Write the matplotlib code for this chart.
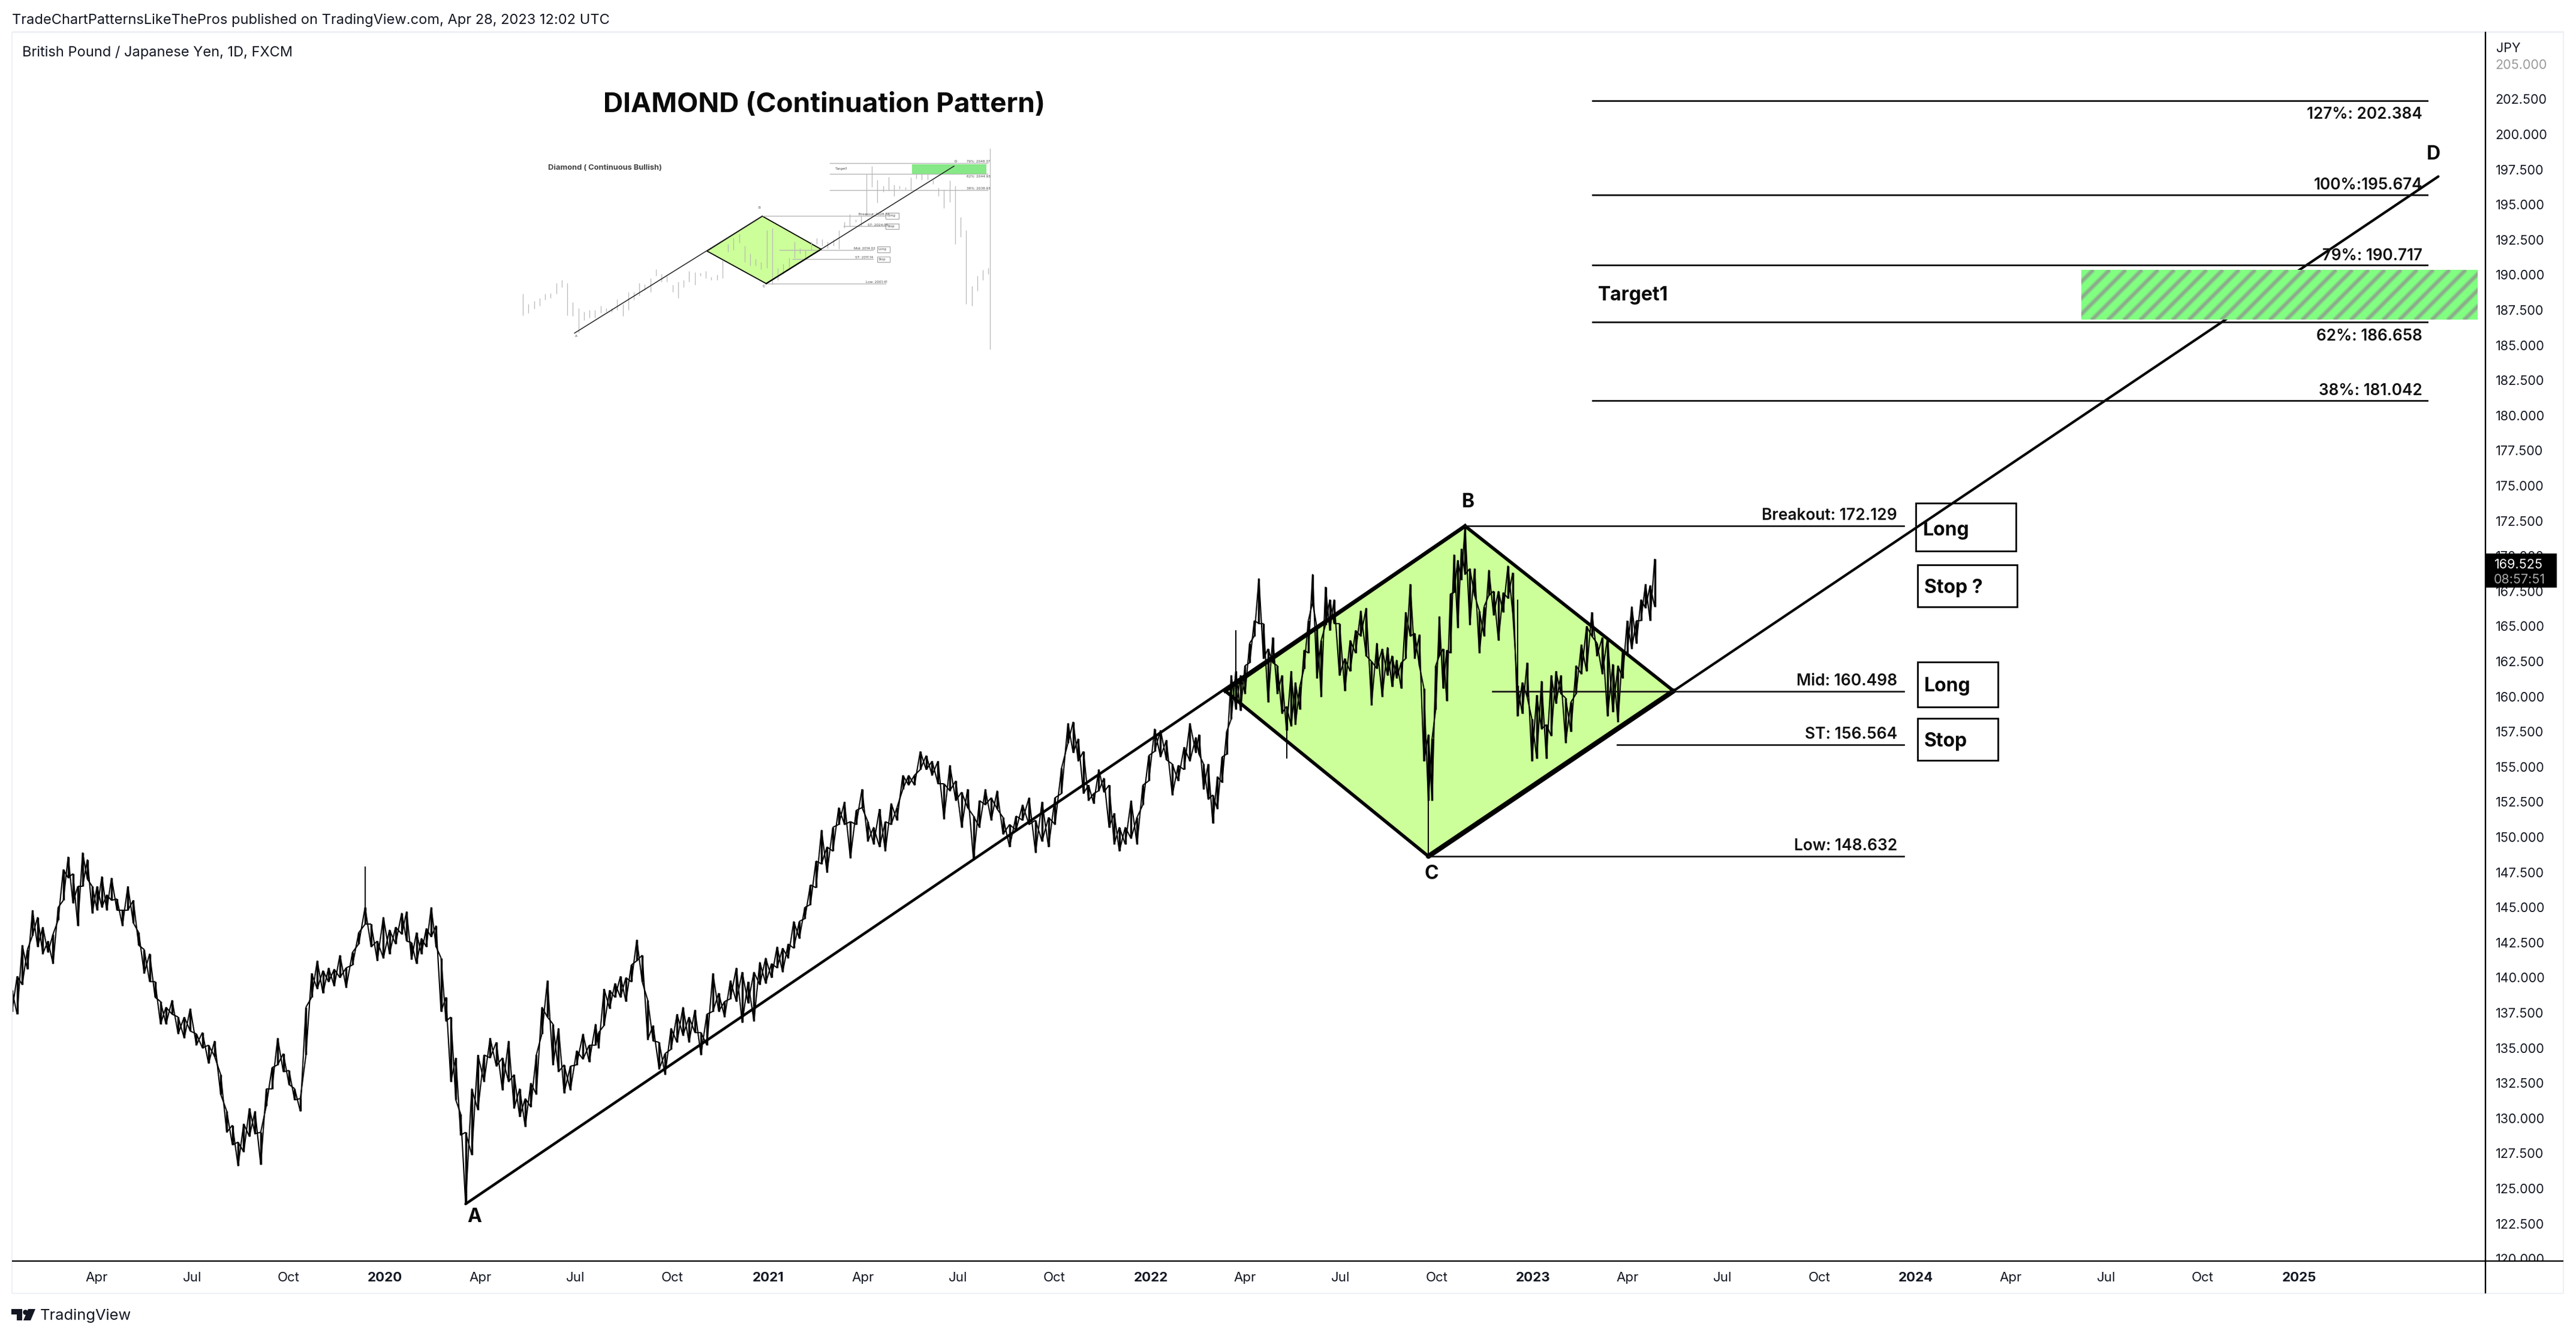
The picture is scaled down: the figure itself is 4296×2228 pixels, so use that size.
import numpy as np
import matplotlib
matplotlib.use("Agg")
import matplotlib.pyplot as plt
import matplotlib.dates as mdates
from matplotlib.patches import Rectangle, Polygon
from matplotlib.lines import Line2D
from matplotlib.collections import LineCollection
from matplotlib.transforms import IdentityTransform

W, H = 4296, 2228
plt.rcParams['font.family'] = ['Inter', 'DejaVu Sans']

# ---------- price series (high / low of each short period)
anchor_bar = [0,10,20,30,40,50,60,64,70,83,90,100,105,106,116,126,136,146,162,176,186,196,209,210,230,240,250,259,269,280,290,300,308]
anchor_date = ['2019-01-10','2019-02-28','2019-04-15','2019-06-06','2019-08-03','2019-09-26','2019-11-19','2019-12-13','2020-01-17','2020-03-18','2020-04-28','2020-06-20','2020-07-20','2020-07-23','2020-09-13','2020-11-09','2021-01-04','2021-02-26','2021-05-26','2021-08-13','2021-10-14','2021-12-02','2022-02-13','2022-02-16','2022-05-15','2022-06-25','2022-08-15','2022-09-23','2022-10-28','2022-12-17','2023-02-01','2023-03-23','2023-04-27']

high_2019 = [139.1,140.1,142.3,142.0,144.8,144.3,143.6,142.6,143.1,145.0,147.7,148.6,147.4,146.5,148.9,148.4,146.5,146.5,147.2,145.9,147.1,145.6,144.8,146.5,145.5,143.2,142.0,141.7,139.7,138.3,137.9,138.4,137.2,137.2,137.8,136.0,136.1,135.2,135.5,133.1,130.5,129.5,128.3,129.6,130.7,130.5,129.0,132.1,133.6,135.7,134.6,133.4,132.1,131.4,137.9,140.3,141.2,140.5,140.7,140.6,141.6,140.7,141.8,143.2,145.0,143.8,142.6,144.3,143.4,143.6,144.6,144.7,142.5,143.2,142.8,143.5,145.0,143.7,141.4,138.6,137.2,134.3,130.3,129.0]
low_2019 = [137.6,137.4,139.5,140.6,143.0,142.2,141.7,141.8,141.0,144.1,145.5,147.1,145.3,143.7,146.5,147.0,144.6,144.8,145.0,144.8,145.5,144.8,143.7,144.8,143.9,142.3,140.3,139.7,138.6,136.7,136.7,137.4,136.0,135.7,136.2,135.2,135.0,133.9,134.4,131.7,129.0,128.1,126.6,127.6,128.7,128.9,126.7,130.9,132.1,133.8,133.3,132.4,131.3,130.5,134.5,138.6,139.2,138.9,139.7,139.4,140.0,139.3,140.9,142.4,143.8,142.2,141.2,141.4,141.7,142.4,143.1,142.6,141.3,141.0,141.7,142.2,142.9,142.2,137.6,136.9,132.6,131.3,128.8,123.9]
high_2020a = [132.1,134.5,134.5,135.7,135.4,134.3,135.5,133.1,132.1,131.4,132.5,134.5,137.9,139.8,136.7,136.4,133.8,133.7,134.8,136.0,135.2,136.7]
low_2020a = [127.4,130.6,132.6,134.3,133.7,132.0,132.6,130.7,130.1,129.4,130.8,131.7,136.0,137.2,133.8,133.3,131.8,132.0,133.8,134.2,134.0,135.2]
high_2021 = [136.1,139.2,139.1,139.6,140.1,140.0,140.9,142.7,141.6,138.4,136.6,135.4,134.6,136.4,137.4,137.9,137.2,137.7,136.1,137.4,140.3,138.9,138.3,139.8,140.7,140.4,139.7,140.4,141.1,141.4,141.0,142.2,142.1,142.4,144.0,144.0,145.0,146.6,148.3,150.5,149.3,150.7,152.1,152.5,151.1,151.9,153.4,151.1,150.7,152.0,151.1,152.4,152.1,154.4,154.4,154.4,156.1,155.8,155.4,155.4,153.8,155.1,154.0,153.2,153.4,151.5,152.6,153.4,152.8,153.3,151.4,150.9,151.5,152.3,152.8,151.2,152.5,151.4,152.8,154.9,158.1,158.2,157.0,156.1,153.7,153.1,154.8,154.2,153.7,151.7,150.7,150.7,152.6,151.4,153.7,155.8,157.7,157.6,156.9,155.2,155.1,156.4,158.1,157.1]
low_2021 = [135.0,136.6,137.8,138.6,138.6,138.3,139.7,141.2,139.7,135.6,135.5,133.5,133.1,134.9,135.4,135.9,135.4,136.1,134.5,135.2,137.6,137.6,137.2,138.5,138.3,136.8,138.2,136.9,139.5,139.6,140.0,140.7,140.4,141.4,142.1,142.8,144.2,145.2,146.4,148.1,147.5,149.0,150.9,150.9,148.5,150.9,152.1,149.7,149.5,149.3,149.0,150.9,151.2,153.4,153.7,153.7,154.8,154.8,154.4,153.8,151.3,153.3,152.6,150.7,152.1,148.4,150.7,152.3,151.2,152.0,150.2,149.3,150.5,151.2,150.9,148.9,149.7,149.3,150.9,153.1,156.7,156.0,155.4,153.1,152.6,152.4,153.3,153.2,150.7,149.5,149.0,149.5,149.9,149.5,152.3,154.0,156.1,155.7,155.5,153.0,154.0,154.8,155.4,156.0]
high_2022 = [157.3,155.2,155.2,153.0,154.3,155.7,157.5,161.5,161.8,161.5,162.2,163.8,165.4,168.4,165.2,163.4,164.2,162.2,161.5,159.3,161.8,161.0,160.7,163.3,165.4,168.7,164.9,164.0,167.8,166.9,166.9,165.2,162.7,164.0,164.7,166.1,166.3,162.5,163.8,163.4,163.5,162.9,162.6,162.4,166.0,168.0,164.5,164.4,160.6,157.3,157.0,162.2,165.7,163.4,163.3,167.3,170.1,169.7,170.5,172.1,169.1,169.1,166.1,166.4,169.0,167.5,167.5,167.4,169.3,168.8,160.8,161.0,162.4,158.4,160.1,161.1,158.0,161.5,161.8,161.5,159.9,159.6,162.2,163.7,165.0,166.0,163.8,164.2,164.2,162.3,162.2,163.3,165.4,166.4,165.4,166.9,168.0,167.9,169.8]
low_2022 = [155.9,153.4,152.7,151.0,152.0,153.9,155.9,158.4,159.1,159.0,160.2,162.4,164.3,165.2,162.7,159.6,162.4,160.2,158.8,157.6,157.9,158.0,159.1,162.0,163.1,166.7,161.3,160.0,165.1,164.7,165.2,161.5,160.4,161.8,163.1,164.3,162.9,159.4,162.0,160.0,161.5,160.7,161.3,160.6,162.7,164.3,162.7,162.2,155.4,152.6,152.6,159.1,162.9,160.6,159.7,163.1,167.4,164.9,168.3,168.7,165.1,167.2,163.1,164.3,167.2,165.8,164.0,166.0,167.0,166.0,158.6,158.8,160.0,155.4,155.6,157.7,155.6,157.2,159.5,160.2,156.7,157.5,160.2,161.6,161.8,164.3,162.9,161.6,158.6,158.9,158.2,161.3,163.1,163.4,163.8,165.4,166.3,165.4,166.4]
# single long wicks, drawn thin
wick_bar = [64, 218, 229, 259, 280]
wick_low = [143.8, 159.1, 155.6, 148.6, 158.6]
wick_high = [147.9, 164.7, 159.3, 157.3, 166.9]

# ---------- analysis levels
pattern_dates = ['2022-03-13', '2022-10-28', '2023-05-15', '2022-09-23']   # left, B, right, C
pattern_prices = [160.4, 172.129, 160.4, 148.632]
point_a = ('2020-03-18', 123.9)
point_d = ('2025-05-14', 197.0)
level_start = ['2022-10-28', '2022-11-23', '2023-03-22', '2022-09-23']
level_values = [172.15, 160.38, 156.564, 148.632]
level_labels = ['Breakout: 172.129', 'Mid: 160.498', 'ST: 156.564', 'Low: 148.632']
target_values = [202.384, 195.674, 190.717, 186.658, 181.042]
target_labels = ['127%: 202.384', '100%:195.674', '79%: 190.717', '62%: 186.658', '38%: 181.042']
target_dy = [23, -16, -15, 24, -16]
target_zone = (186.8, 190.36)

price_ticks = [120 + 2.5 * i for i in range(35)]
time_ticks = ['2019-04-01','2019-07-01','2019-10-01','2020-01-01','2020-04-01','2020-07-01','2020-10-01','2021-01-01','2021-04-01','2021-07-01','2021-10-01','2022-01-01','2022-04-01','2022-07-01','2022-10-01','2023-01-01','2023-04-01','2023-07-01','2023-10-01','2024-01-01','2024-04-01','2024-07-01','2024-10-01','2025-01-01']
time_labels = ['Apr','Jul','Oct','2020','Apr','Jul','Oct','2021','Apr','Jul','Oct','2022','Apr','Jul','Oct','2023','Apr','Jul','Oct','2024','Apr','Jul','Oct','2025']

# ---------- small reference picture (inset): high / low per bar
inset_high = [1997.3,1993.4,1994.6,1995.8,1997.3,1997.7,2001.6,2002.8,2001.6,1994.2,1991.9,1990.3,1991.1,1991.1,1992.7,1991.9,1991.9,1995.4,1993.4,1998.1,1998.1,2001.6,2001.2,2003.6,2007.1,2005.2,2004.4,2000.9,2002.0,2002.8,2006.3,2005.9,2005.5,2006.3,2004.0,2004.8,2010.6,2016.9,2019.2,2020.8,2016.1,2013.0,2011.0,2009.8,2022.3,2023.1,2007.5,2009.1,2011.4,2017.7,2015.3,2014.5,2017.7,2019.2,2018.8,2017.7,2018.8,2022.3,2025.5,2028.6,2026.3,2027.8,2044.2,2047.3,2041.9,2039.5,2043.0,2039.9,2039.5,2039.1,2042.7,2046.6,2045.8,2044.2,2041.9,2038.8,2038.0,2041.5,2039.5,2027.4,2022.3,2000.5,2004.4,2006.7,2007.5]
inset_low = [1989.1,1989.9,1991.5,1992.7,1995.0,1995.8,1997.3,2000.1,1989.1,1988.8,1982.1,1987.2,1988.0,1988.0,1989.9,1990.3,1990.3,1991.1,1988.8,1991.1,1995.0,1996.6,1998.9,1998.1,2004.4,2002.0,2002.0,1998.1,1995.8,2000.1,2002.0,2000.9,2004.4,2003.6,2002.8,2002.8,2003.6,2013.8,2014.5,2017.3,2009.8,2008.3,2008.3,2007.1,2007.5,2001.2,2002.8,2005.2,2006.7,2011.4,2013.0,2011.4,2014.5,2016.9,2016.1,2015.3,2016.1,2014.9,2023.1,2023.9,2025.5,2023.9,2027.8,2039.1,2032.9,2037.2,2037.6,2035.6,2038.4,2038.0,2037.6,2042.3,2041.9,2041.9,2040.3,2035.6,2030.9,2033.3,2016.9,2019.6,1993.4,1992.7,1998.5,2002.8,2005.2]
inset_diamond_x = [33.2, 43.2, 53.8, 43.9]
inset_diamond_y = [2014.1, 2027.7, 2014.8, 2001.4]
inset_a = (9.3, 1982.1)
inset_d = (77.8, 2047.2)
inset_levels = [(55.4, 83.9, 2048.4), (55.4, 83.9, 2044.1), (55.4, 83.9, 2037.8), (43.2, 65.5, 2027.7),
                (57.9, 65.5, 2023.8), (46.3, 63.2, 2014.5), (48.7, 63.2, 2010.9), (43.9, 65.5, 2001.4)]
inset_zone = (70.2, 83.7, 2044.2, 2048.0)

# ---------- helpers: pixel positions for page furniture
def fx(x): return x / W
def fy(y): return 1 - y / H
def dn(s): return mdates.date2num(np.datetime64(s))

fig = plt.figure(figsize=(W / 100, H / 100), dpi=100, facecolor='white')
AL, AR, AT, AB = 20, 4145, 53, 2103
ax = fig.add_axes([fx(AL), fy(AB), fx(AR - AL), fy(AT) - fy(AB)])
ax.set_xlim(dn('2019-01-10'), dn('2025-06-28'))
ax.set_ylim(150 - (AB - 1396) / 23.44, 150 + (1396 - AT) / 23.44)
for s in ['top', 'left', 'bottom', 'right']:
    ax.spines[s].set_visible(False)

# diamond
dx = [dn(d) for d in pattern_dates]
ax.add_patch(Polygon(list(zip(dx, pattern_prices)), closed=True, facecolor='#ccff99', edgecolor='none', zorder=1))

# price bars, with the strokes that join one bar to the next
highs = np.array(high_2019 + high_2020a + high_2021 + high_2022)
lows = np.array(low_2019 + low_2020a + low_2021 + low_2022)
bar_x = np.interp(np.arange(len(highs)), anchor_bar, [dn(d) for d in anchor_date])
ax.vlines(bar_x, lows, highs, color='#000000', linewidth=2.5, zorder=2)
ax.vlines(bar_x[wick_bar], wick_low, wick_high, color='#000000', linewidth=1.5, zorder=2)
join_up = np.column_stack([np.column_stack([bar_x[:-1], lows[:-1]]), np.column_stack([bar_x[1:], highs[1:]])]).reshape(-1, 2, 2)
join_down = np.column_stack([np.column_stack([bar_x[:-1], highs[:-1]]), np.column_stack([bar_x[1:], lows[1:]])]).reshape(-1, 2, 2)
ax.add_collection(LineCollection(list(join_up) + list(join_down), colors='#000000', linewidths=1.5, zorder=2), autolim=False)

# trend lines and diamond outline
ax.plot([dn(point_a[0]), dx[1]], [point_a[1], pattern_prices[1]], color='k', lw=3.2, zorder=3, solid_capstyle='round')
ax.plot([dx[2], dn(point_d[0])], [pattern_prices[2], point_d[1]], color='k', lw=3.0, zorder=3, solid_capstyle='round')
ax.plot([dx[0], dx[1]], [pattern_prices[0], pattern_prices[1]], color='k', lw=4.6, zorder=3)
ax.plot([dx[1], dx[2]], [pattern_prices[1], pattern_prices[2]], color='k', lw=4.0, zorder=3)
ax.plot([dx[0], dx[3]], [pattern_prices[0], pattern_prices[3]], color='k', lw=4.0, zorder=3)
ax.plot([dx[3], dx[2]], [pattern_prices[3], pattern_prices[2]], color='k', lw=6.0, zorder=3, solid_capstyle='round')

def px_date(x):
    return dn('2020-01-01') + (x - 642) / 638 * 365.25

# levels around the pattern
for start, v, lab in zip(level_start, level_values, level_labels):
    ax.plot([dn(start), px_date(3174)], [v, v], color='#111111', lw=1.9, zorder=3)
    fig.text(fx(3164), fy(1396 + (150 - v) * 23.44 - 17), lab, ha='right', va='center', fontsize=19, fontweight='semibold', color='#111111')

# target levels
for v, lab, d in zip(target_values, target_labels, target_dy):
    ax.plot([px_date(2656), px_date(4047)], [v, v], color='#111111', lw=2.0, zorder=3)
    fig.text(fx(4040), fy(1396 + (150 - v) * 23.44 + d), lab, ha='right', va='center', fontsize=18.8, fontweight='semibold', color='#111111')

# target zone with blurred diagonal stripes
zx0, zx1 = px_date(3470), px_date(4131)
zone = Rectangle((zx0, target_zone[0]), zx1 - zx0, target_zone[1] - target_zone[0], facecolor='#80ff80', edgecolor='none', zorder=4)
ax.add_patch(zone)
ybot, ytop = H - 534, H - 450
segs = [[(x, ybot), (x + (ytop - ybot), ytop)] for x in np.arange(3470 - 90, 4131 + 10, 27)]
for lw, col in [(6.0, '#86d586'), (3.0, '#8cab8c')]:
    lc = LineCollection(segs, colors=col, linewidths=lw, transform=IdentityTransform(), zorder=4.1)
    ax.add_collection(lc, autolim=False)
    lc.set_clip_path(zone)

# axes ticks
ax.yaxis.tick_right()
ax.set_yticks(price_ticks)
ax.set_yticklabels([f'{v:.3f}' for v in price_ticks], fontsize=15.5, color='#131722')
ax.tick_params(axis='y', length=0, pad=12)
ax.yaxis.get_majorticklabels()[-1].set_color('#9a9a9a')
ax.set_xticks([dn(d) for d in time_ticks])
ax.set_xticklabels(time_labels, fontsize=16, color='#131722')
ax.tick_params(axis='x', length=0, pad=13)
for lab in ax.get_xticklabels():
    if lab.get_text().startswith('20'):
        lab.set_fontweight('bold')

# cover under the axis line: the lowest price label is cut there
fig.add_artist(Rectangle((fx(4147), fy(2157)), fx(127), fy(2104) - fy(2157), transform=fig.transFigure,
                         facecolor='white', edgecolor='none', zorder=4))

# page lines
def fline(x0, y0, x1, y1, c, lw, z=5):
    fig.add_artist(Line2D([fx(x0), fx(x1)], [fy(y0), fy(y1)], color=c, lw=lw, zorder=z, solid_capstyle='butt'))
fline(20, 53, 4275, 53, '#eef0f5', 2.4)
fline(20, 53, 20, 2157, '#eef0f5', 1.6)
fline(4275, 53, 4275, 2157, '#eef0f5', 1.6)
fline(20, 2157, 4275, 2157, '#eef0f5', 1.6)
fline(20, 2103, 4275, 2103, '#000000', 1.7, 6)
fline(4145, 53, 4145, 2157, '#000000', 1.7, 6)

# price tag
fig.add_artist(Rectangle((fx(4146), fy(980)), fx(118), fy(923) - fy(980), transform=fig.transFigure,
                         facecolor='black', edgecolor='none', zorder=8))
fig.text(fx(4160), fy(942), '169.525', color='white', fontsize=15.5, va='center', zorder=9)
fig.text(fx(4159), fy(967), '08:57:51', color='#a8a8a8', fontsize=15.5, va='center', zorder=9)
fig.text(fx(4163), fy(81), 'JPY', color='#131722', fontsize=15.5, va='center')

# headers
fig.text(fx(20), fy(34), 'TradeChartPatternsLikeThePros published on TradingView.com, Apr 28, 2023 12:02 UTC',
         fontsize=17, va='center', color='#131722')
fig.text(fx(37), fy(88), 'British Pound / Japanese Yen, 1D, FXCM', fontsize=17, va='center', color='#131722')
fig.text(fx(1375), fy(175), 'DIAMOND (Continuation Pattern)', fontsize=33, fontweight='bold', ha='center', va='center', color='#0a0a0a', zorder=7)

# point labels
for t, x, y in [('A', 791, 2029), ('B', 2448, 838), ('C', 2387, 1458), ('D', 4058, 258)]:
    fig.text(fx(x), fy(y), t, fontsize=23, fontweight='bold', ha='center', va='center', color='#0a0a0a', zorder=7)
fig.text(fx(2665), fy(492), 'Target1', fontsize=23, fontweight='bold', va='center', color='#0a0a0a', zorder=7)

# boxes
boxes = [(3195, 839, 3362, 919, 'Long', 3207, 884), (3198, 942, 3364, 1012, 'Stop ?', 3209, 981),
         (3198, 1104, 3332, 1179, 'Long', 3209, 1144), (3198, 1198, 3332, 1268, 'Stop', 3209, 1236)]
for x0, y0, x1, y1, t, tx, ty in boxes:
    fig.add_artist(Rectangle((fx(x0), fy(y1)), fx(x1 - x0), fy(y0) - fy(y1), transform=fig.transFigure,
                             facecolor='none', edgecolor='black', lw=2.0, zorder=7))
    fig.text(fx(tx), fy(ty), t, fontsize=23, fontweight='bold', va='center', color='#0a0a0a', zorder=7)

# footer logo
fig.add_artist(Polygon([(fx(19), fy(2183)), (fx(37), fy(2183)), (fx(37), fy(2202)), (fx(28), fy(2202)), (fx(28), fy(2192)), (fx(19), fy(2192))],
                       transform=fig.transFigure, facecolor='#131722', edgecolor='none'))
fig.add_artist(Polygon([(fx(47), fy(2183)), (fx(59), fy(2183)), (fx(51), fy(2202)), (fx(39), fy(2202))],
                       transform=fig.transFigure, facecolor='#131722', edgecolor='none'))
fig.add_artist(Line2D([fx(41.5)], [fy(2187.5)], marker='o', ms=6.2, color='#131722', mec='none', lw=0))
fig.text(fx(67), fy(2194), 'TradingView', fontsize=18.3, va='center', color='#131722')

# inset
ia = fig.add_axes([fx(868), fy(582), fx(1651 - 868), fy(248) - fy(582)], facecolor='white', zorder=3)
ia.set_xlim(-0.46, 84.3)
ia.set_ylim(1975.9, 2054.0)
ia.axis('off')
ia.add_patch(Polygon(list(zip(inset_diamond_x, inset_diamond_y)), closed=True, facecolor='#ccff99', edgecolor='k', lw=1.3, zorder=1))
ia.vlines(np.arange(len(inset_high)), inset_low, inset_high, color='#b8b8b8', lw=0.9, zorder=2)
ia.plot([inset_a[0], inset_diamond_x[1]], [inset_a[1], inset_diamond_y[1]], color='#222222', lw=1.1, zorder=3)
ia.plot([inset_diamond_x[2], inset_d[0]], [inset_diamond_y[2], inset_d[1]], color='#222222', lw=1.1, zorder=3)
ia.plot([inset_diamond_x[3], inset_diamond_x[2]], [inset_diamond_y[3], inset_diamond_y[2]], color='k', lw=1.6, zorder=3)
for a, b, v in inset_levels:
    ia.plot([a, b], [v, v], color='#b5b5b5', lw=1.0, zorder=2)
ia.add_patch(Rectangle((inset_zone[0], inset_zone[2]), inset_zone[1] - inset_zone[0], inset_zone[3] - inset_zone[2],
                       facecolor='#86e886', edgecolor='none', zorder=2))
ia.plot([84.3, 84.3], [1975.9, 2054.0], color='#bdbdbd', lw=1.0, clip_on=False)
def itext(X, Y, t, fs=4.2, w='normal'):
    fig.text(fx(840 + X / 1.867), fy(240 + Y / 3), t, fontsize=fs, ha='center', va='center', color='#444444', fontweight=w, zorder=8)
itext(315, 120, 'Diamond ( Continuous Bullish)', 9.3, 'bold')
for x, y, t in [(225, 962, 'A'), (796, 318, 'B'), (810, 712, 'C'), (1407, 88, 'D'), (1051, 125, 'Target1'),
                (1478, 88, '79%: 2048.37'), (1478, 162, '62%: 2044.93'), (1478, 224, '38%: 2038.93'),
                (1153, 353, 'Breakout: 2028.24'), (1165, 406, 'ST: 2024.05'), (1123, 522, 'Mid: 2014.02'),
                (1123, 568, 'ST: 2011.14'), (1160, 690, 'Low: 2001.41'),
                (1206, 360, 'Long'), (1206, 412, 'Stop'), (1178, 528, 'Long'), (1178, 578, 'Stop')]:
    itext(x, y, t)
for x0, x1, y0, y1 in [(1190, 1231, 346, 374), (1190, 1231, 398, 425), (1163, 1203, 514, 542), (1163, 1203, 565, 592)]:
    fig.add_artist(Rectangle((fx(840 + x0 / 1.867), fy(240 + y1 / 3)), fx((x1 - x0) / 1.867), (y1 - y0) / 3 / H,
                             transform=fig.transFigure, facecolor='none', edgecolor='#999999', lw=0.7, zorder=8))

fig.savefig('out.png', dpi=100, facecolor='white')
